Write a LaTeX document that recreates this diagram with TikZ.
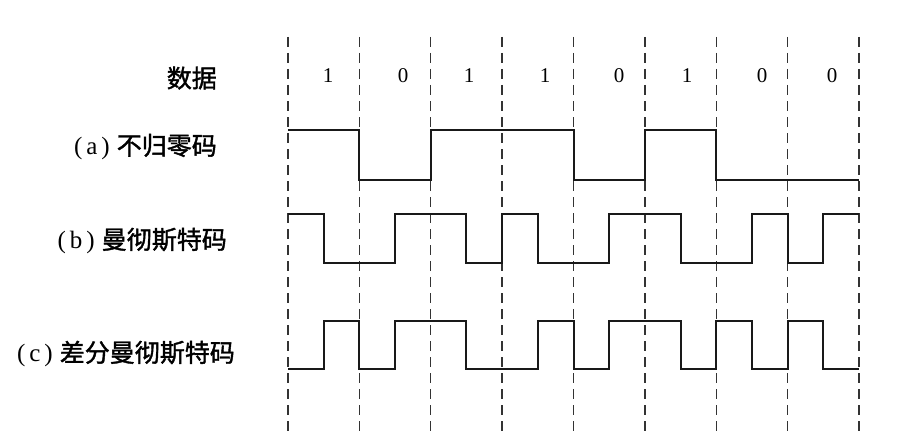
\documentclass[tikz,border=0pt]{standalone}
\usepackage{fontspec}
\setmainfont{Liberation Serif}
\newfontfamily\cjk{Noto Sans CJK SC}[FakeBold=1.5]
\begin{document}
\begin{tikzpicture}[x=1pt,y=-1pt,
  grid/.style={dash pattern=on 10pt off 6pt, line width=1.3pt, black!80},
  wave/.style={line width=2pt, line join=miter, black!90},
  digit/.style={font=\fontsize{21}{21}\selectfont, inner sep=0pt},
  lbl/.style={font=\fontsize{25}{25}\selectfont\cjk, anchor=east, inner sep=0pt}]
\useasboundingbox[fill=white] (0,0) rectangle (900,444);
% dashed bit boundaries
\foreach \i in {0,...,8}{
  \draw[grid] ({288+71.375*\i},37) -- ({288+71.375*\i},436);
}
% data bits
\foreach \x/\b [count=\k] in {328/1,403/0,469/1,545/1,619/0,687/1,762/0,832/0}{
  \node[digit] (d\k) at (\x,76) {\b};
}
% labels
\node[lbl] (ldata) at (217,78) {数据};
\node[lbl] (la) at (217,147) {{\rmfamily\mdseries(\hspace{4pt}a\hspace{4pt})}\hspace{7pt}不归零码};
\node[lbl] (lb) at (227,241) {{\rmfamily\mdseries(\hspace{4pt}b\hspace{4pt})}\hspace{7pt}曼彻斯特码};
\node[lbl] (lc) at (235,354) {{\rmfamily\mdseries(\hspace{4pt}c\hspace{4pt})}\hspace{7pt}差分曼彻斯特码};
% (a) NRZ
\draw[wave] (288,130) -- (359.4,130) -- (359.4,180) -- (430.75,180) -- (430.75,130)
  -- (573.5,130) -- (573.5,180) -- (644.9,180) -- (644.9,130) -- (716.25,130)
  -- (716.25,180) -- (859,180);
% (b) Manchester
\draw[wave] (288,214) -- (323.7,214) -- (323.7,263) -- (395.1,263) -- (395.1,214)
  -- (466.4,214) -- (466.4,263) -- (502.1,263) -- (502.1,214) -- (537.8,214)
  -- (537.8,263) -- (609.2,263) -- (609.2,214) -- (680.6,214) -- (680.6,263)
  -- (751.9,263) -- (751.9,214) -- (787.6,214) -- (787.6,263) -- (823.3,263)
  -- (823.3,214) -- (859,214);
% (c) Differential Manchester
\draw[wave] (288,369) -- (323.7,369) -- (323.7,321) -- (359.4,321) -- (359.4,369)
  -- (395.1,369) -- (395.1,321) -- (466.4,321) -- (466.4,369) -- (537.8,369)
  -- (537.8,321) -- (573.5,321) -- (573.5,369) -- (609.2,369) -- (609.2,321)
  -- (680.6,321) -- (680.6,369) -- (716.25,369) -- (716.25,321) -- (751.9,321)
  -- (751.9,369) -- (787.6,369) -- (787.6,321) -- (823.3,321) -- (823.3,369)
  -- (859,369);
\end{tikzpicture}
\end{document}
